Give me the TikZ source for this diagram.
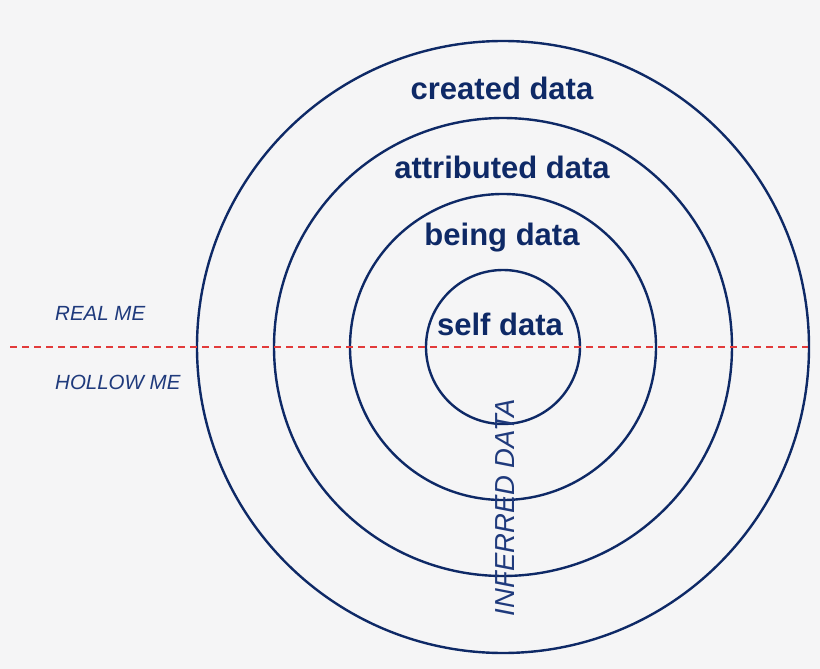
\documentclass[tikz,border=0pt]{standalone}
\usepackage{fontspec}
\setmainfont{Liberation Sans}
\definecolor{bgc}{HTML}{F5F5F6}
\definecolor{navy}{HTML}{0E2966}
\definecolor{labc}{HTML}{1F3A7C}
\definecolor{dashred}{HTML}{E23B3B}
\tikzset{
  ring/.style={draw=navy, line width=2.4pt},
  bigtext/.style={text=navy, font=\fontsize{31}{36}\selectfont\bfseries, anchor=base, inner sep=0pt},
  sidetext/.style={text=labc, font=\fontsize{20.5}{24}\selectfont\itshape, anchor=base west, inner sep=0pt},
  divider/.style={draw=dashred, line width=2pt, dash pattern=on 7pt off 5pt}
}
\begin{document}
\begin{tikzpicture}[x=1pt,y=-1pt]
\fill[bgc] (0,0) rectangle (820,669);
\useasboundingbox (0,0) rectangle (820,669);
\coordinate (c) at (503,347);
\draw[ring] (c) circle[radius=306pt];
\draw[ring] (c) circle[radius=229pt];
\draw[ring] (c) circle[radius=153pt];
\draw[ring] (c) circle[radius=77pt];
\coordinate (dl) at (10,347);
\coordinate (dr) at (808,347);
\draw[divider] (dl) -- (dr);
\node[bigtext] (created) at (502,99.5) {created data};
\node[bigtext] (attrib) at (502,178) {attributed data};
\node[bigtext] (being) at (502,245) {being data};
\node[bigtext] (self) at (500,335.5) {self data};
\node[sidetext] (real) at (55,320) {REAL ME};
\node[sidetext] (hollow) at (55,389) {HOLLOW ME};
\node[text=labc, font=\fontsize{27.5}{30}\selectfont\itshape, rotate=90, anchor=base, inner sep=0pt] (inferred) at (514,507.5) {INFERRED DATA};
\end{tikzpicture}
\end{document}
